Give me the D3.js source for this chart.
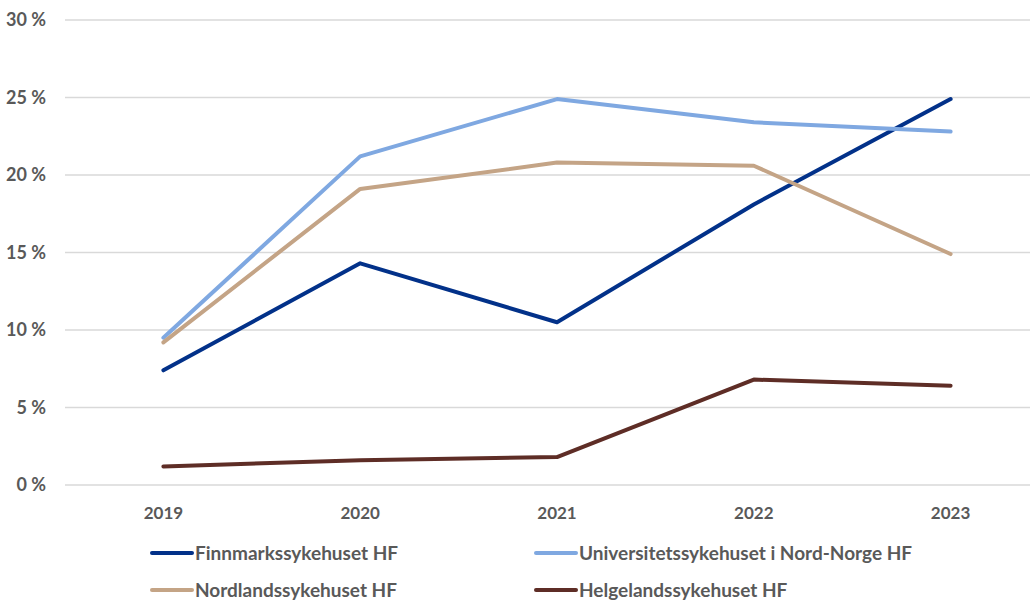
<!DOCTYPE html>
<html>
<head>
<meta charset="utf-8">
<script src="https://cdn.jsdelivr.net/npm/d3@7"></script>
<style>
  body { margin: 0; background: #fff; }
  text { font-family: Lato, "Open Sans", sans-serif; font-weight: bold; fill: #595959; }
</style>
</head>
<body>
<svg id="chart" width="1030" height="601"></svg>
<script>
// Chart data
var years = ["2019", "2020", "2021", "2022", "2023"];
var seriesNames = ["Finnmarkssykehuset HF", "Universitetssykehuset i Nord-Norge HF",
  "Nordlandssykehuset HF", "Helgelandssykehuset HF"];
var finnmark = [7.4, 14.3, 10.5, 18.1, 24.9];
var unn = [9.5, 21.2, 24.9, 23.4, 22.8];
var nordland = [9.2, 19.1, 20.8, 20.6, 14.9];
var helgeland = [1.2, 1.6, 1.8, 6.8, 6.4];
var yTicks = [0, 5, 10, 15, 20, 25, 30];
var colors = ["#023189", "#7fa8e1", "#c4a486", "#5e2d26"];

var series = [finnmark, unn, nordland, helgeland];

var svg = d3.select("#chart");

// Plot area
var plotLeft = 65, plotRight = 1049, plotTop = 20, plotBottom = 485;

var x = d3.scalePoint().domain(years).range([plotLeft, plotRight]).padding(0.5);
var y = d3.scaleLinear().domain([0, 30]).range([plotBottom, plotTop]);

// Gridlines
svg.append("g")
  .selectAll("line")
  .data(yTicks)
  .enter()
  .append("line")
  .attr("x1", plotLeft)
  .attr("x2", 1030)
  .attr("y1", function(d) { return y(d); })
  .attr("y2", function(d) { return y(d); })
  .attr("stroke", "#d9d9d9")
  .attr("stroke-width", 1.3);

// Y axis labels
svg.append("g")
  .selectAll("text")
  .data(yTicks)
  .enter()
  .append("text")
  .attr("x", 46)
  .attr("y", function(d) { return y(d) + 6; })
  .attr("text-anchor", "end")
  .style("font-size", "18px")
  .text(function(d) { return d + " %"; });

// X axis labels
svg.append("g")
  .selectAll("text")
  .data(years)
  .enter()
  .append("text")
  .attr("x", function(d) { return x(d); })
  .attr("y", 519)
  .attr("text-anchor", "middle")
  .style("font-size", "17px")
  .text(function(d) { return d; });

// Lines
var line = d3.line()
  .x(function(d, i) { return x(years[i]); })
  .y(function(d) { return y(d); });

svg.append("g")
  .selectAll("path")
  .data(series)
  .enter()
  .append("path")
  .attr("d", line)
  .attr("fill", "none")
  .attr("stroke", function(d, i) { return colors[i]; })
  .attr("stroke-width", 4)
  .attr("stroke-linecap", "round")
  .attr("stroke-linejoin", "round");

// Legend
var legendPos = [[152, 553], [536, 553], [152, 590], [536, 590]];
var legend = svg.append("g")
  .selectAll("g")
  .data(seriesNames)
  .enter()
  .append("g")
  .attr("transform", function(d, i) {
    return "translate(" + legendPos[i][0] + "," + legendPos[i][1] + ")";
  });

legend.append("line")
  .attr("x1", 0)
  .attr("x2", 40)
  .attr("stroke", function(d, i) { return colors[i]; })
  .attr("stroke-width", 4)
  .attr("stroke-linecap", "round");

legend.append("text")
  .attr("x", 43)
  .attr("y", 7)
  .style("font-size", "19px")
  .text(function(d) { return d; });
</script>
</body>
</html>
